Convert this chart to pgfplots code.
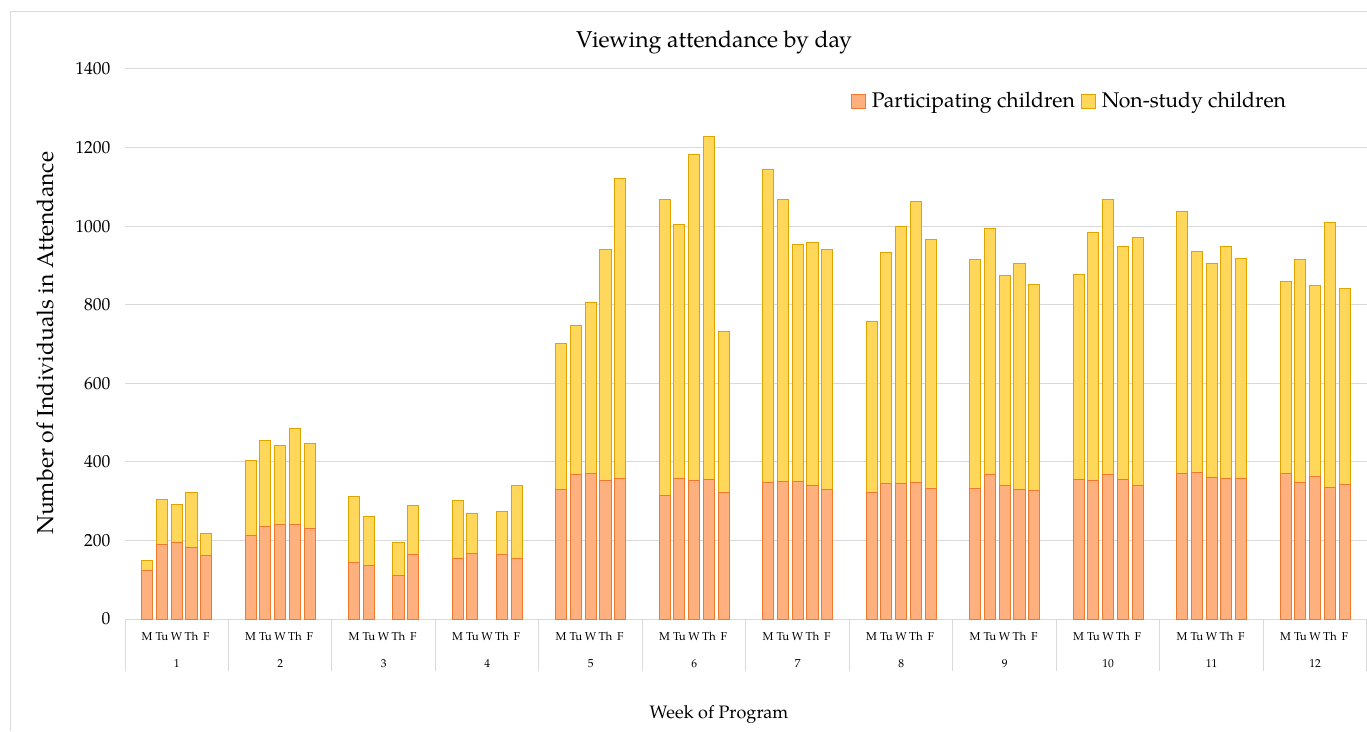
\documentclass[border=0pt]{standalone}
\usepackage{pgfplots}
\pgfplotsset{compat=1.18}
\usepackage{fontspec}
\setmainfont{TeX Gyre Pagella}
\definecolor{partfill}{HTML}{FFB07F}
\definecolor{partedge}{HTML}{EF7A2E}
\definecolor{nsfill}{HTML}{FFD75A}
\definecolor{nsedge}{HTML}{E0A300}
\definecolor{gridc}{HTML}{D9D9D9}
\begin{document}
\begin{tikzpicture}
\path[use as bounding box] (0,0) rectangle (1367pt,731pt);
\draw[gridc, line width=1pt] (10pt,0) -- (10pt,719pt) -- (1367pt,719pt);
\node[font=\fontsize{23}{27}\selectfont] at (714pt,689pt) {Viewing attendance by day};
\node[rotate=90, font=\fontsize{23}{27}\selectfont] at (45pt,388pt) {Number of Individuals in Attendance};
\node[font=\fontsize{18}{22}\selectfont] at (719pt,17pt) {Week of Program};
\begin{axis}[
  at={(125pt,112pt)}, anchor=south west,
  scale only axis, width=1242pt, height=550pt,
  ybar stacked, bar width=0.75,
  xmin=0, xmax=84, ymin=0, ymax=1400,
  enlargelimits=false,
  axis x line*=bottom, axis y line*=left,
  x axis line style={draw=gridc, line width=1pt},
  y axis line style={draw=none},
  ymajorgrids, grid style={draw=gridc, line width=1pt},
  ytick={0,200,...,1400},
  major tick length=0pt,
  tick align=outside,
  ytick style={draw=none},
  xtick style={draw=none},
  minor xtick={0,7,...,84},
  minor tick length=52pt,
  minor x tick style={draw=gridc, line width=1pt},
  /pgf/number format/assume math mode=true,
  /pgf/number format/set thousands separator={},
  yticklabel style={font=\fontsize{17.5}{20}\selectfont, xshift=-11pt},
  xtick={1.5,2.5,3.5,4.5,5.5,8.5,9.5,10.5,11.5,12.5,15.5,16.5,17.5,18.5,19.5,22.5,23.5,24.5,25.5,26.5,29.5,30.5,31.5,32.5,33.5,36.5,37.5,38.5,39.5,40.5,43.5,44.5,45.5,46.5,47.5,50.5,51.5,52.5,53.5,54.5,57.5,58.5,59.5,60.5,61.5,64.5,65.5,66.5,67.5,68.5,71.5,72.5,73.5,74.5,75.5,78.5,79.5,80.5,81.5,82.5},
  xticklabels={M,Tu,W,Th,F,M,Tu,W,Th,F,M,Tu,W,Th,F,M,Tu,W,Th,F,M,Tu,W,Th,F,M,Tu,W,Th,F,M,Tu,W,Th,F,M,Tu,W,Th,F,M,Tu,W,Th,F,M,Tu,W,Th,F,M,Tu,W,Th,F,M,Tu,W,Th,F},
  xticklabel style={font=\fontsize{11.5}{13}\selectfont, yshift=-10pt, inner xsep=0pt},
  extra x ticks={3.5,10.5,17.5,24.5,31.5,38.5,45.5,52.5,59.5,66.5,73.5,80.5},
  extra x tick labels={1,2,3,4,5,6,7,8,9,10,11,12},
  extra x tick style={tick style={draw=none}, tick label style={yshift=-27pt}},
  legend style={at={(0.7605,0.9418)}, anchor=center, draw=none, fill=none,
    legend columns=2, font=\fontsize{21.2}{25}\selectfont,
    /tikz/every odd column/.append style={column sep=4pt},
    /tikz/every even column/.append style={column sep=4pt}},
  legend cell align=left,
]
\addplot[fill=partfill, draw=partedge, line width=1pt,
  legend image code/.code={\draw[fill=partfill, draw=partedge, line width=1pt] (0pt,-7pt) rectangle (14pt,7pt);}]
  coordinates {
(1.5,123) (2.5,189) (3.5,196) (4.5,182) (5.5,162)
(8.5,213) (9.5,236) (10.5,240) (11.5,240) (12.5,231)
(15.5,143) (16.5,137) (18.5,111) (19.5,165)
(22.5,154) (23.5,166) (25.5,164) (26.5,154)
(29.5,329) (30.5,368) (31.5,370) (32.5,352) (33.5,358)
(36.5,314) (37.5,358) (38.5,352) (39.5,356) (40.5,322)
(43.5,347) (44.5,350) (45.5,350) (46.5,340) (47.5,329)
(50.5,322) (51.5,345) (52.5,346) (53.5,347) (54.5,333)
(57.5,331) (58.5,367) (59.5,340) (60.5,330) (61.5,327)
(64.5,354) (65.5,352) (66.5,368) (67.5,356) (68.5,340)
(71.5,370) (72.5,373) (73.5,361) (74.5,358) (75.5,358)
(78.5,370) (79.5,347) (80.5,363) (81.5,334) (82.5,343)
};
\addlegendentry{Participating children}
\addplot[fill=nsfill, draw=nsedge, line width=1pt,
  legend image code/.code={\draw[fill=nsfill, draw=nsedge, line width=1pt] (0pt,-7pt) rectangle (14pt,7pt);}]
  coordinates {
(1.5,27) (2.5,115) (3.5,96) (4.5,140) (5.5,55)
(8.5,191) (9.5,219) (10.5,202) (11.5,245) (12.5,215)
(15.5,170) (16.5,124) (18.5,83) (19.5,124)
(22.5,148) (23.5,102) (25.5,109) (26.5,185)
(29.5,371) (30.5,380) (31.5,436) (32.5,589) (33.5,763)
(36.5,753) (37.5,647) (38.5,831) (39.5,873) (40.5,411)
(43.5,797) (44.5,717) (45.5,602) (46.5,618) (47.5,611)
(50.5,436) (51.5,589) (52.5,654) (53.5,716) (54.5,633)
(57.5,583) (58.5,627) (59.5,535) (60.5,574) (61.5,524)
(64.5,523) (65.5,632) (66.5,701) (67.5,593) (68.5,631)
(71.5,667) (72.5,562) (73.5,544) (74.5,591) (75.5,559)
(78.5,488) (79.5,568) (80.5,486) (81.5,674) (82.5,498)
};
\addlegendentry{Non-study children}
\end{axis}
\end{tikzpicture}
\end{document}
